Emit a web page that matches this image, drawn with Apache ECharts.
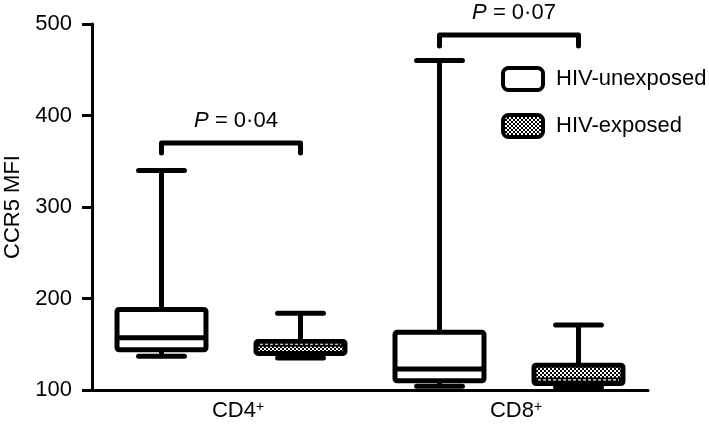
<!DOCTYPE html>
<html><head><meta charset="utf-8">
<script src="https://cdn.jsdelivr.net/npm/echarts@6/dist/echarts.min.js"></script>
<style>html,body{margin:0;padding:0;background:#fff}#c{width:709px;height:436px}</style>
</head><body><div id="c"></div>
<script>
const categories = ['CD4⁺ HIV-unexposed', 'CD4⁺ HIV-exposed', 'CD8⁺ HIV-unexposed', 'CD8⁺ HIV-exposed'];
const groupLabels = ['CD4⁺', 'CD8⁺'];
const yTicks = [100, 200, 300, 400, 500];
const seriesNames = ['HIV-unexposed', 'HIV-exposed'];
// [categoryIndex, min, Q1, median, Q3, max]
const unexposedBoxes = [[0, 137, 144, 157, 188, 340], [2, 104, 110, 123, 163, 460]];
const exposedBoxes = [[1, 135, 140, 150, 153, 184], [3, 103, 107, 111, 127, 171]];
// [fromIndex, toIndex, bracketTop, bracketFoot]
const pBrackets = [[0, 1, 370, 359], [2, 3, 488, 476]];
const pLabels = ['0·04', '0·07'];

const FONT = '"Liberation Sans", Arial, Helvetica, sans-serif';

function makeChecker() {
  const c = document.createElement('canvas');
  c.width = 4; c.height = 4;
  const g = c.getContext('2d');
  g.fillStyle = '#000'; g.fillRect(0, 0, 4, 4);
  g.fillStyle = '#fff'; g.fillRect(0, 0, 2, 2); g.fillRect(2, 2, 2, 2);
  return { image: c, repeat: 'repeat' };
}
const checker = makeChecker();

function boxRenderer(fill, dashedMedian) {
  return function (params, api) {
    const x = api.value(0);
    const cx = api.coord([x, api.value(1)])[0];
    const yMin = api.coord([x, api.value(1)])[1];
    const yQ1 = api.coord([x, api.value(2)])[1];
    const yMed = api.coord([x, api.value(3)])[1];
    const yQ3 = api.coord([x, api.value(4)])[1];
    const yMax = api.coord([x, api.value(5)])[1];
    const catW = api.size([1, 0])[0];
    const bw = catW * 0.64, cw = catW * 0.33;
    const ln = { stroke: '#000', lineWidth: 5 };
    const children = [
      { type: 'line', shape: { x1: cx, y1: yQ3, x2: cx, y2: yMax }, style: ln },
      { type: 'line', shape: { x1: cx, y1: yQ1, x2: cx, y2: yMin }, style: ln },
      { type: 'line', shape: { x1: cx - cw / 2, y1: yMax, x2: cx + cw / 2, y2: yMax }, style: Object.assign({ lineCap: 'round' }, ln) },
      { type: 'line', shape: { x1: cx - cw / 2, y1: yMin, x2: cx + cw / 2, y2: yMin }, style: Object.assign({ lineCap: 'round' }, ln) },
      { type: 'rect', shape: { x: cx - bw / 2, y: yQ3, width: bw, height: yQ1 - yQ3, r: 2 }, style: { fill: fill, stroke: '#000', lineWidth: 5, lineJoin: 'round' } },
      { type: 'line', shape: { x1: cx - bw / 2, y1: yMed, x2: cx + bw / 2, y2: yMed }, style: ln }
    ];
    if (dashedMedian) {
      children.push({ type: 'line', shape: { x1: cx - bw / 2 + 4, y1: yMed, x2: cx + bw / 2 - 4, y2: yMed }, style: { stroke: '#fff', lineWidth: 1.2, lineDash: [3, 2] } });
    }
    return { type: 'group', children: children };
  };
}

function bracketRenderer(params, api) {
  const x0 = api.value(0), x1 = api.value(1), top = api.value(2), foot = api.value(3);
  const p0 = api.coord([x0, foot]), p1 = api.coord([x0, top]), p2 = api.coord([x1, top]), p3 = api.coord([x1, foot]);
  return {
    type: 'group', children: [
      { type: 'polyline', shape: { points: [p0, p1, p2, p3] }, style: { stroke: '#000', fill: null, lineWidth: 5, lineJoin: 'round', lineCap: 'round' } },
      { type: 'text', x: (p1[0] + p2[0]) / 2 + 5, y: p1[1] - 22,
        style: { text: '{i|P} = ' + pLabels[params.dataIndex], fill: '#000', fontSize: 22, fontFamily: FONT, align: 'center', verticalAlign: 'middle',
          rich: { i: { fontStyle: 'italic', fontSize: 22, fontFamily: FONT, fill: '#000' } } } }
    ]
  };
}

const chart = echarts.init(document.getElementById('c'), null, { renderer: 'canvas' });
chart.setOption({
  animation: false,
  backgroundColor: '#fff',
  textStyle: { fontFamily: FONT, color: '#000' },
  grid: { left: 92, right: 61, top: 24, bottom: 46, containLabel: false, outerBoundsMode: 'none' },
  legend: {
    orient: 'vertical', left: 496, top: 61, itemWidth: 40, itemHeight: 22, itemGap: 21,
    selectedMode: false,
    textStyle: { fontSize: 22, color: '#000', fontFamily: FONT, padding: [0, 0, 0, 8] },
    data: [
      { name: seriesNames[0], icon: 'roundRect', itemStyle: { color: '#fff', borderColor: '#000', borderWidth: 4 } },
      { name: seriesNames[1], icon: 'roundRect', itemStyle: { color: checker, borderColor: '#000', borderWidth: 4 } }
    ]
  },
  xAxis: [
    { type: 'category', data: categories, boundaryGap: true,
      axisLine: { lineStyle: { color: '#000', width: 3 } },
      axisTick: { alignWithLabel: true, length: 10, lineStyle: { color: '#000', width: 3 } },
      axisLabel: { show: false }, splitLine: { show: false } },
    { type: 'category', data: groupLabels, position: 'bottom', boundaryGap: true,
      axisLine: { show: false }, axisTick: { show: false }, splitLine: { show: false },
      axisLabel: { margin: 10, padding: [0, 0, 0, 14], formatter: v => '{b|' + v.replace('⁺', '') + '}{s|+}',
        rich: { b: { fontSize: 22, fontFamily: FONT, color: '#000', lineHeight: 22 },
                s: { fontSize: 14, fontFamily: FONT, color: '#000', verticalAlign: 'top', lineHeight: 22 } } } }
  ],
  yAxis: {
    type: 'value', min: yTicks[0], max: yTicks[yTicks.length - 1], interval: 100,
    name: 'CCR5 MFI', nameLocation: 'middle', nameGap: 68,
    nameTextStyle: { fontSize: 22, color: '#000', fontFamily: FONT },
    axisLine: { show: true, lineStyle: { color: '#000', width: 3 } },
    axisTick: { show: true, length: 10, lineStyle: { color: '#000', width: 3 } },
    axisLabel: { fontSize: 22, color: '#000', margin: 20, fontFamily: FONT },
    splitLine: { show: false }
  },
  series: [
    { type: 'custom', name: seriesNames[0], xAxisIndex: 0, clip: false, renderItem: boxRenderer('#fff', false),
      itemStyle: { color: '#fff', borderColor: '#000' }, encode: { x: 0, y: [1, 2, 3, 4, 5] }, data: unexposedBoxes },
    { type: 'custom', name: seriesNames[1], xAxisIndex: 0, clip: false, renderItem: boxRenderer(checker, true),
      itemStyle: { color: '#000', borderColor: '#000' }, encode: { x: 0, y: [1, 2, 3, 4, 5] }, data: exposedBoxes },
    { type: 'custom', name: 'brackets', xAxisIndex: 0, clip: false, renderItem: bracketRenderer,
      encode: { x: [0, 1], y: [2, 3] }, data: pBrackets }
  ]
});
</script></body></html>
